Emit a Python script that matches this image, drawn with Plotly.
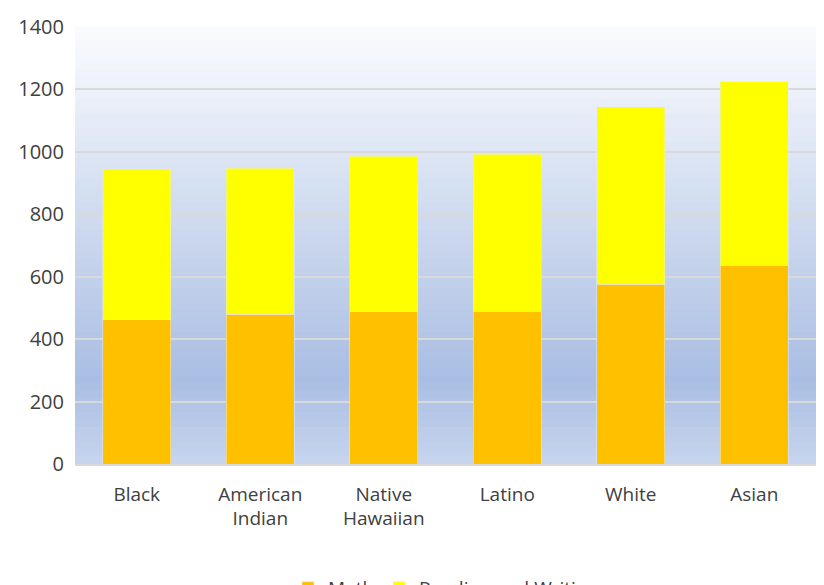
import plotly.graph_objects as go

groups = ["Black", "American<br>Indian", "Native<br>Hawaiian", "Latino", "White", "Asian"]
math = [462, 480, 488, 490, 576, 636]
reading_writing = [484, 468, 498, 502, 568, 588]

fig = go.Figure()
fig.add_trace(go.Bar(name="Math", x=groups, y=math, marker_color="#FFC000"))
fig.add_trace(go.Bar(name="Reading and Writing", x=groups, y=reading_writing, marker_color="#FFFF00"))


def blend(c1, c2, t):
    return "rgb(%d,%d,%d)" % tuple(round(a + (b - a) * t) for a, b in zip(c1, c2))


# gradient plot background: white at top, blue lower down, a little lighter at the bottom
top = (250, 251, 254)
mid = (170, 190, 227)
bottom = (200, 214, 238)
n = 60
shapes = []
for i in range(n):
    f = i / n  # 0 = top
    if f < 0.8:
        col = blend(top, mid, f / 0.8)
    else:
        col = blend(mid, bottom, (f - 0.8) / 0.2)
    shapes.append(dict(type="rect", xref="x domain", yref="y domain",
                       x0=0, x1=1, y0=1 - (i + 1) / n, y1=1 - i / n + 0.002,
                       fillcolor=col, line_width=0, layer="below"))

fig.update_layout(
    barmode="stack",
    bargap=0.45,
    width=824, height=585,
    margin=dict(l=67, r=16, t=19, b=129, autoexpand=False),
    paper_bgcolor="white",
    plot_bgcolor="rgba(0,0,0,0)",
    shapes=shapes,
    font=dict(family="Open Sans, DejaVu Sans, sans-serif", size=19, color="#404040"),
    legend=dict(orientation="h", x=0.5, xanchor="center", y=-0.24, yanchor="top",
                traceorder="normal", font=dict(size=19)),
    yaxis=dict(range=[0, 1400], dtick=200, gridcolor="#D9D9D9", gridwidth=1.5,
               showline=False, zeroline=False, ticks="", ticklen=0,
               ticklabelstandoff=10, tickfont=dict(size=20)),
    xaxis=dict(showline=True, linecolor="#D9D9D9", linewidth=1.5, ticks="",
               ticklabelstandoff=12),
)

fig.write_html("out.html")
